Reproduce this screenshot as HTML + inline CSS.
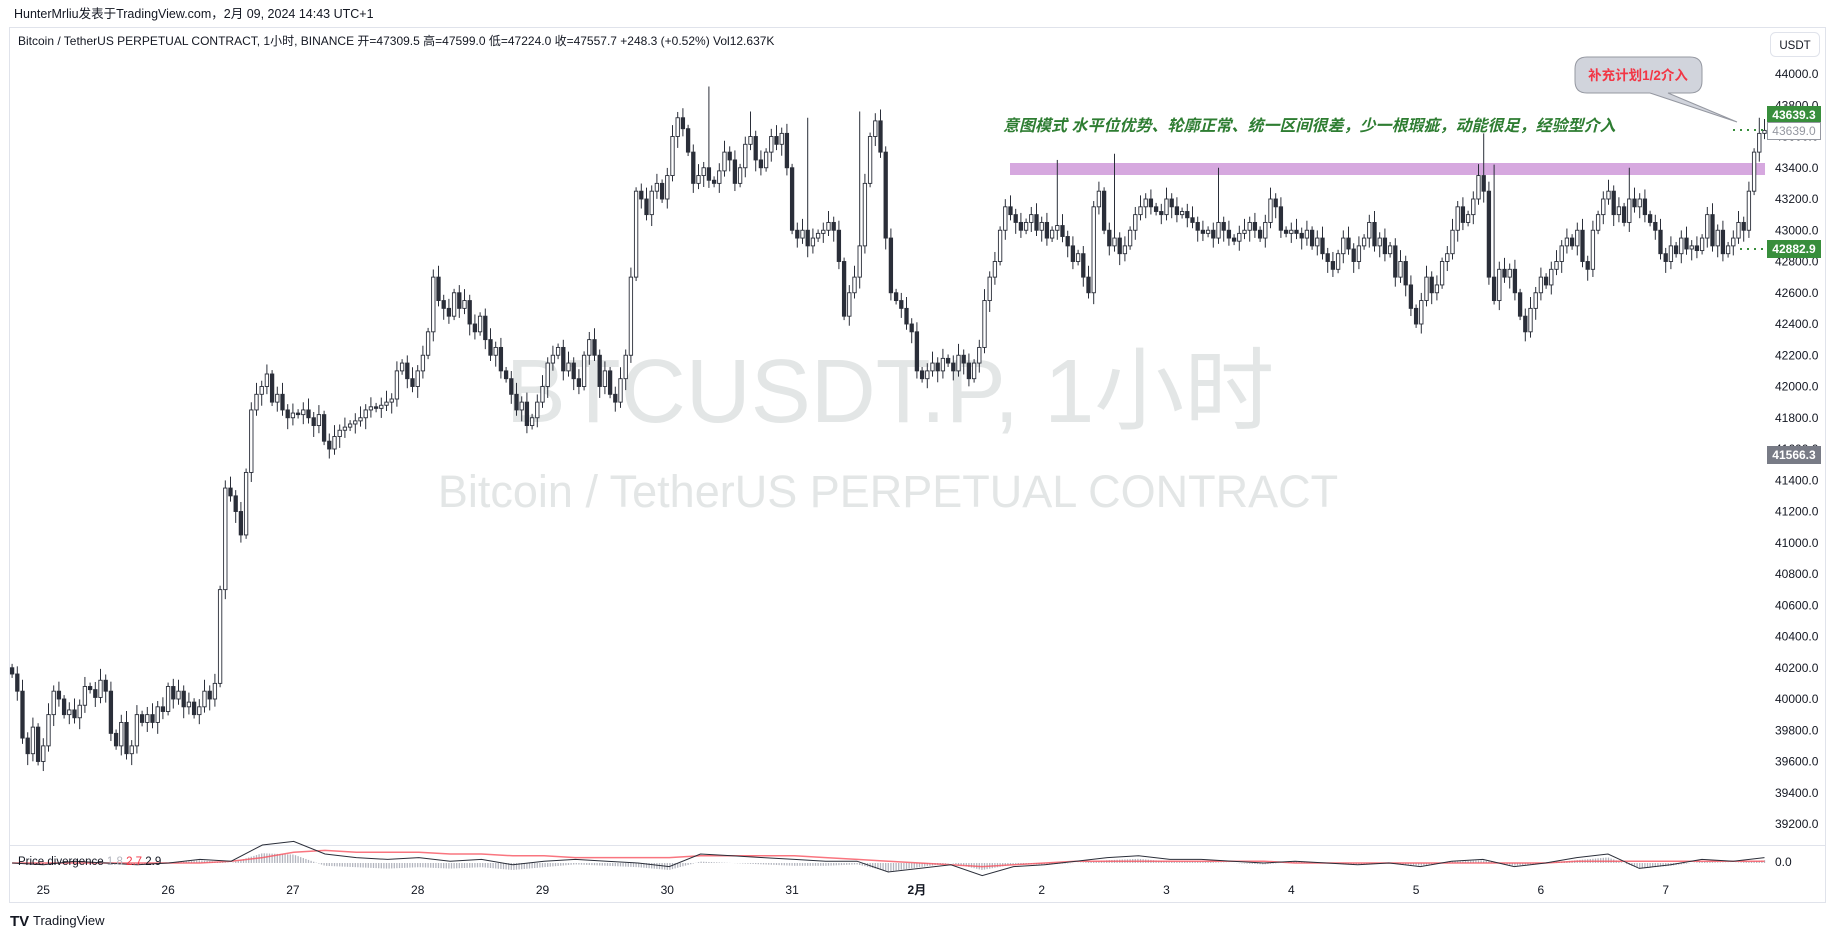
<!DOCTYPE html>
<html><head><meta charset="utf-8">
<style>
html,body{margin:0;padding:0;background:#fff;width:1835px;height:939px;overflow:hidden;font-family:"Liberation Sans","Noto Sans CJK SC",sans-serif;}
svg text{font-family:"Liberation Sans","Noto Sans CJK SC",sans-serif;}
</style></head><body>
<svg id="chart" width="1835" height="939" xmlns="http://www.w3.org/2000/svg">
<text x="14" y="18" font-size="12.5" fill="#131722">HunterMrliu发表于TradingView.com，2月 09, 2024 14:43 UTC+1</text>
<rect x="9.5" y="27.5" width="1816" height="875" fill="none" stroke="#e0e3eb"/>
<text x="18" y="45" font-size="12" fill="#131722">Bitcoin / TetherUS PERPETUAL CONTRACT, 1小时, BINANCE  开=47309.5  高=47599.0  低=47224.0  收=47557.7  +248.3 (+0.52%)  Vol12.637K</text>
<text x="890" y="422" font-size="90" fill="#e3e6e6" text-anchor="middle">BTCUSDT.P, 1小时</text>
<text x="888" y="507" font-size="45" fill="#e3e6e6" text-anchor="middle">Bitcoin / TetherUS PERPETUAL CONTRACT</text>
<rect x="1770.5" y="32.5" width="49" height="24" rx="5" fill="#fff" stroke="#e0e3eb"/>
<text x="1795" y="49" font-size="11.5" fill="#131722" text-anchor="middle">USDT</text>
<line x1="9" y1="845.5" x2="1826" y2="845.5" stroke="#e0e3eb"/>
<rect x="1010" y="163" width="755" height="12" fill="#d6a8df"/>
<g id="yaxis"></g>
<g id="candles"></g>
<g id="ind"></g>
<g id="xaxis"></g>
<text x="1003" y="131" font-size="16" font-weight="bold" font-style="italic" fill="#2e7d32">意图模式  水平位优势、轮廓正常、统一区间很差，少一根瑕疵，动能很足，经验型介入</text>
<path d="M1587,57 H1690 Q1702,57 1702,69 V81 Q1702,93 1690,93 H1668 L1737,122 L1650,93 H1587 Q1575,93 1575,81 V69 Q1575,57 1587,57 Z" fill="#d1d4dc" stroke="#9598a1"/>
<text x="1638" y="80" font-size="13.5" font-weight="bold" fill="#f23645" text-anchor="middle">补充计划1/2介入</text>
<line x1="1733" y1="130" x2="1765" y2="130" stroke="#388e3c" stroke-width="2" stroke-dasharray="2,5"/>
<line x1="1740" y1="249" x2="1765" y2="249" stroke="#388e3c" stroke-width="2" stroke-dasharray="2,5"/>
<rect x="1767" y="106" width="54" height="18" fill="#388e3c"/>
<text x="1794" y="119" font-size="12" font-weight="bold" fill="#fff" text-anchor="middle">43639.3</text>
<rect x="1767.5" y="122.5" width="53" height="17" fill="#fff" stroke="#9598a1"/>
<text x="1794" y="135" font-size="12" fill="#9598a1" text-anchor="middle">43639.0</text>
<rect x="1767" y="240" width="54" height="18" fill="#388e3c"/>
<text x="1794" y="253" font-size="12" font-weight="bold" fill="#fff" text-anchor="middle">42882.9</text>
<rect x="1767" y="446" width="54" height="18" fill="#787b86"/>
<text x="1794" y="459" font-size="12" font-weight="bold" fill="#fff" text-anchor="middle">41566.3</text>
<text x="18" y="865" font-size="11.5" fill="#131722">Price divergence <tspan fill="#b2b5be">1.8</tspan> <tspan fill="#f23645">2.7</tspan> 2.9</text>
<text x="1775" y="866" font-size="12" fill="#131722">0.0</text>
<g>
<text x="10" y="926" font-size="15" font-weight="bold" fill="#131722">TV</text>
<text x="33" y="925" font-size="13" fill="#131722">TradingView</text>
</g>
</svg>
<script>
const startIndex = -6;
const closes = [
40160,40050,39750,39650,39820,39600,
39700,39900,40050,40000,39900,39930,39880,39960,40080,40060,40010,40120,40050,39780,39700,39850,39650,39700,39900,39850,39900,39850,39950,39920,
40080,40000,40050,39950,39980,39900,39950,40050,40000,40100,40700,41350,41300,41200,41050,41450,41850,41950,42000,42080,41900,41950,41850,41800,
41830,41820,41850,41800,41750,41820,41650,41600,41680,41720,41740,41760,41780,41800,41850,41870,41860,41880,41900,41920,42100,42150,42050,42000,
42100,42200,42350,42700,42550,42500,42450,42600,42500,42550,42400,42350,42450,42300,42200,42250,42100,42050,41950,41850,41900,41750,41800,41900,
42000,42150,42200,42250,42100,42150,42050,42000,42200,42300,42200,42000,42100,41950,41900,42050,42200,42700,43250,43200,43100,43250,43300,43200,
43350,43600,43720,43650,43500,43300,43350,43400,43320,43300,43380,43500,43450,43300,43400,43550,43600,43450,43400,43500,43600,43550,43620,43400,
43000,42950,43000,42900,42950,42980,43000,43050,43000,42800,42450,42600,42700,42900,43300,43600,43700,43500,42950,42600,42550,42500,42400,42350,
42100,42050,42100,42150,42100,42180,42150,42100,42200,42150,42050,42150,42250,42550,42700,42800,43000,43150,43100,43050,43000,43050,43100,43000,
43050,42950,43000,43030,42960,42900,42800,42850,42700,42600,43150,43250,43000,42900,42950,42850,42900,43000,43100,43150,43200,43150,43120,43100,
43200,43150,43100,43120,43080,43050,43000,42980,43000,42950,43050,43000,42950,42930,42980,43000,43050,43000,42950,43050,43200,43150,43000,42980,
43000,42980,42950,43000,42900,42950,42850,42800,42750,42850,42950,42880,42800,42900,42950,43050,42900,42950,42850,42900,42700,42800,42650,42500,
42400,42550,42700,42600,42650,42800,42850,43000,43150,43050,43100,43200,43350,43250,42700,42550,42750,42700,42750,42600,42450,42350,42500,42600,
42700,42650,42750,42800,42900,42950,42900,43000,42800,42750,43000,43100,43200,43250,43100,43150,43050,43200,43150,43200,43100,43050,43000,42850,
42800,42900,42850,42950,42880,42900,42870,42950,43100,42900,43000,42850,42900,42950,43050,43000,43250,43500,43620,43639
];
const spikeIdx = [128, 136, 147, 157, 195, 206, 226, 277, 279, 305, 330];
const spikeHigh = [43920, 43760, 43720, 43760, 43450, 43490, 43400, 43620, 43420, 43400, 43720];
const dateLabels = ["25","26","27","28","29","30","31","2月","2","3","4","5","6","7"];
const priceTicks = [44000,43800,43600,43400,43200,43000,42800,42600,42400,42200,42000,41800,41600,41400,41200,41000,40800,40600,40400,40200,40000,39800,39600,39400,39200];
const oscValues = [0,-1,1,0,-1,0,2,1,10,12,5,3,2,3,1,2,-1,1,2,1,0,-2,5,4,3,2,1,1,-5,-3,-1,-7,-2,-1,1,3,4,2,2,1,0,1,0,-1,0,-2,1,2,-2,0,3,5,-3,-1,2,1,3];
const signalValues = [0,0,0,0,0,0,0,1,3,6,7,6,6,6,5,5,4,4,3,3,3,3,4,4,4,4,3,2,1,0,-1,-2,-1,0,1,1,1,1,1,1,1,0,0,0,0,0,0,0,0,0,1,1,1,1,1,1,1];

const NS="http://www.w3.org/2000/svg";
function xOf(i){return 43.3 + i*5.2;}
function yOf(p){return 74 + (44000-p)*0.15625;}
function mk(tag,attrs,parent){const e=document.createElementNS(NS,tag);for(const k in attrs)e.setAttribute(k,attrs[k]);parent.appendChild(e);return e;}

const ya=document.getElementById('yaxis');
priceTicks.forEach(p=>{
  const t=mk('text',{x:1775,y:yOf(p)+4,'font-size':12,fill:'#131722'},ya);
  
  
  t.textContent=p.toFixed(1);
});

const cg=document.getElementById('candles');
for(let k=0;k<closes.length;k++){
  const i=startIndex+k;
  const c=closes[k];
  const o=k>0?closes[k-1]:c+40;
  let hi=Math.max(o,c)+25+(k*37%5)*12;
  let lo=Math.min(o,c)-25-(k*53%5)*12;
  const s=spikeIdx.indexOf(i);
  if(s>=0) hi=spikeHigh[s];
  const x=xOf(i);
  const up=c>=o;
  const wick=mk('line',{x1:x,x2:x,y1:yOf(hi),y2:yOf(lo),stroke:'#2a2e39','stroke-width':1},cg);
  
  
  const top=yOf(Math.max(o,c)), h=Math.max(1,Math.abs(yOf(o)-yOf(c)));
  const body=mk('rect',{x:x-1.7,y:top,width:3.4,height:h,fill:up?'#ffffff':'#2a2e39',stroke:'#2a2e39','stroke-width':0.9},cg);
  
  
}

const ig=document.getElementById('ind');
const zeroY=863, iStart=xOf(startIndex), iEnd=xOf(startIndex+closes.length-1);
function ixOf(j,n){return iStart+(iEnd-iStart)*j/(n-1);}
function iyOf(v){return zeroY - v*1.8;}
const n=oscValues.length;
for(let x=iStart;x<=iEnd;x+=2.6){
  const j=Math.min(n-2,Math.floor((x-iStart)/(iEnd-iStart)*(n-1)));
  const f=(x-iStart)/(iEnd-iStart)*(n-1)-j;
  const d=(oscValues[j]*(1-f)+oscValues[j+1]*f)-(signalValues[j]*(1-f)+signalValues[j+1]*f);
  const b=mk('line',{x1:x,x2:x,y1:zeroY,y2:zeroY - d*1.4,stroke:'#b2b5be','stroke-width':1.3},ig);
  
  
}
let ps='',pr='';
oscValues.forEach((v,j)=>{ps+=(j?'L':'M')+ixOf(j,n).toFixed(1)+','+iyOf(v).toFixed(1);});
signalValues.forEach((v,j)=>{pr+=(j?'L':'M')+ixOf(j,signalValues.length).toFixed(1)+','+iyOf(v).toFixed(1);});
const rl=mk('path',{d:pr,fill:'none',stroke:'#f7525f','stroke-width':1.5,opacity:0.8},ig);


const ol=mk('path',{d:ps,fill:'none',stroke:'#2a2e39','stroke-width':1},ig);



const xa=document.getElementById('xaxis');
dateLabels.forEach((d,k)=>{
  const t=mk('text',{x:xOf(k*24),y:894,'font-size':12,fill:'#131722','text-anchor':'middle','font-weight':d==='2月'?'bold':'normal'},xa);
  
  
  t.textContent=d;
});
</script>
</body></html>
